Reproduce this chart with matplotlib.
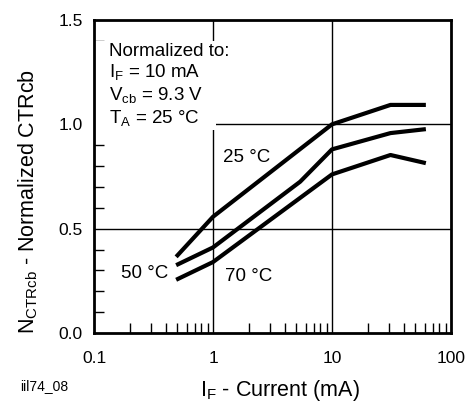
import numpy as np
import matplotlib.pyplot as plt
from matplotlib.ticker import LogLocator, MultipleLocator
from matplotlib.patches import Rectangle

plt.rcParams['font.family'] = ['Liberation Sans', 'DejaVu Sans']

# curve data
i_f = [0.49, 1.0, 10.0, 31.0, 61.5]
ctr_25 = [0.365, 0.557, 1.0, 1.093, 1.093]

i_f_50 = [0.49, 1.0, 5.4, 10.0, 31.0, 61.5]
ctr_50 = [0.325, 0.41, 0.725, 0.88, 0.958, 0.977]

ctr_70 = [0.255, 0.34, 0.76, 0.853, 0.814]

xticks = [0.1, 1, 10, 100]
xticklabels = ['0.1', '1', '10', '100']
yticks = [0.0, 0.5, 1.0, 1.5]
yticklabels = ['0.0', '0.5', '1.0', '1.5']

fig = plt.figure(figsize=(4.71, 4.03), dpi=100)
ax = fig.add_axes([0.1996, 0.1737, 0.7579, 0.7767])

ax.set_xscale('log')
ax.set_xlim(0.1, 100)
ax.set_ylim(0, 1.5)

# grid lines
for gx in [1, 10]:
    ax.axvline(gx, color='black', lw=1.0, zorder=1)
for gy in [0.5, 1.0]:
    ax.axhline(gy, color='black', lw=1.0, zorder=1)

# white patch behind the note (hides grid)
ax.add_patch(Rectangle((0.1, 0.975), 1.06 - 0.1, 1.40 - 0.975,
                       facecolor='white', edgecolor='none', zorder=2))

ax.plot(i_f, ctr_25, color='black', lw=3, solid_capstyle='butt', zorder=3)
ax.plot(i_f_50, ctr_50, color='black', lw=3, solid_capstyle='butt', zorder=3)
ax.plot(i_f, ctr_70, color='black', lw=3, solid_capstyle='butt', zorder=3)

ax.set_xticks(xticks)
ax.set_xticklabels(xticklabels)
ax.set_yticks(yticks)
ax.set_yticklabels(yticklabels)
ax.xaxis.set_minor_locator(LogLocator(base=10, subs=np.arange(2, 10)))
ax.xaxis.set_minor_formatter(plt.NullFormatter())
ax.yaxis.set_minor_locator(MultipleLocator(0.1))
ax.tick_params(which='both', direction='in', top=False, right=False,
               labelsize=12.5)
ax.tick_params(which='major', length=0, pad=8)
ax.tick_params(axis='x', which='major', pad=13)
ax.tick_params(which='minor', length=7, width=1)

for s in ax.spines.values():
    s.set_linewidth(2)

ax.text(0.134, 1.39, 'Normalized to:\n$\\mathregular{I_F}$ = 10 mA\n'
        '$\\mathregular{V_{cb}}$ = 9.3 V\n$\\mathregular{T_A}$ = 25 \u00b0C',
        fontsize=13.5, va='top', ha='left', linespacing=1.17, zorder=4)

ax.text(1.215, 0.842, '25 \u00b0C', fontsize=13.5, va='center', ha='left', zorder=4)
ax.text(0.17, 0.285, '50 \u00b0C', fontsize=13.5, va='center', ha='left', zorder=4)
ax.text(1.25, 0.27, '70 \u00b0C', fontsize=13.5, va='center', ha='left', zorder=4)

ax.set_xlabel('$\\mathregular{I_F}$ - Current (mA)', fontsize=15.5)
ax.set_ylabel('$\\mathregular{N_{CTRcb}}$ - Normalized CTRcb', fontsize=15.5)
ax.xaxis.set_label_coords(0.52, -0.145)
ax.yaxis.set_label_coords(-0.15, 0.42)

fig.text(0.043, 0.032, 'iil74_08', fontsize=10)

fig.savefig('out.png', dpi=100)
